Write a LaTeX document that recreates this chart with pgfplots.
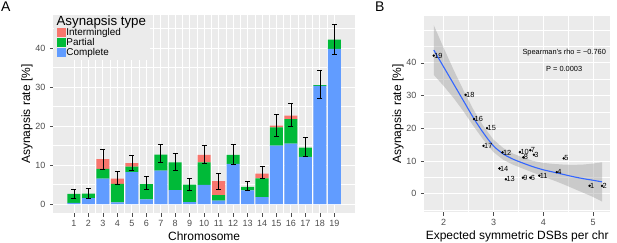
\documentclass[border=0pt]{standalone}
\usepackage{pgfplots}
\usepackage{pgfplotstable}
\pgfplotsset{compat=1.18}
\usepackage{fontspec}
\setmainfont{Liberation Sans}
\definecolor{ggbg}{HTML}{EBEBEB}
\definecolor{ggred}{HTML}{F8766D}
\definecolor{gggreen}{HTML}{00BA38}
\definecolor{ggblue}{HTML}{619CFF}
\definecolor{ggtick}{HTML}{4D4D4D}
\definecolor{ggline}{HTML}{3366FF}
\definecolor{ggband}{HTML}{999999}

\pgfplotstableread{
chr comp part inter total ep em
1  0.3  2.3  0    2.6  1.25 1.1
2  1.5  1.15 0    2.65 1.35 1.15
3  6.5  2.5  2.5  11.5 2.5  2.5
4  0.4  4.8  1.3  6.5  1.9  1.5
5  8.2  1.4  0.9  10.5 2.0  1.8
6  1.2  3.9  0    5.1  2.0  1.4
7  8.6  4.1  0    12.7 2.7  2.1
8  3.6  7.1  0    10.7 2.3  2.0
9  0.5  4.5  0    5.0  1.7  1.4
10 4.9  5.8  1.9  12.6 2.4  2.1
11 0.9  1.4  3.6  5.9  2.0  2.0
12 10.3 2.3  0    12.6 2.7  2.3
13 3.5  0.9  0    4.4  1.5  0.9
14 1.8  4.8  1.2  7.8  1.9  1.3
15 15.0 4.7  0.4  20.1 2.9  2.7
16 15.5 6.3  0.9  22.7 3.2  2.8
17 12.1 2.4  0    14.5 2.7  2.3
18 30.3 0.2  0    30.5 3.7  3.4
19 39.8 2.4  0    42.2 4.0  3.7
}\dataA

\pgfplotstableread{
x y lab
1.80 42.2 19
2.44 30.2 18
2.61 22.8 16
2.87 20.0 15
2.80 14.6 17
3.18 12.6 12
3.53 12.7 10
3.74 13.3 7
3.60 11.1 8
3.81 11.9 3
4.41 10.8 5
3.12 7.7 14
4.27 6.6 4
3.25 4.4 13
3.59 4.9 9
3.74 4.9 6
3.92 5.5 11
4.93 2.4 1
5.18 2.4 2
}\dataB

\pgfplotsset{
 ggstyle/.style={
  scale only axis,
  enlargelimits=false,
  axis background/.style={fill=ggbg},
  axis line style={draw=none},
  tick align=outside,
  xtick pos=bottom, ytick pos=left,
  major tick length=3.5pt,
  minor tick length=0pt,
  tick style={ggtick, line width=0.5pt},
  grid=both,
  major grid style={white, line width=0.9pt},
  minor grid style={white, line width=0.45pt},
  tick label style={font=\fontsize{9}{10}\selectfont, color=ggtick},
  yticklabel style={xshift=-1pt},
  label style={font=\fontsize{12}{14}\selectfont},
  /pgf/number format/assume math mode=true,
 },
 ggkey/.style={legend image code/.code={\fill[##1] (0pt,-4.5pt) rectangle (9.3pt,4.5pt);}},
}

\begin{document}
\begin{tikzpicture}
\useasboundingbox (0pt,0pt) rectangle (617pt,242pt);

% Panel A
\begin{axis}[ggstyle,
  at={(53.3pt,29pt)}, anchor=south west,
  width=301.7pt, height=198pt,
  xmin=-0.43, xmax=20.43, ymin=-2.3, ymax=48.5,
  ybar stacked, bar width=0.9,
  xtick={1,...,19}, minor xtick={1.5,2.5,...,18.5},
  ytick={0,10,20,30,40}, minor ytick={5,15,25,35,45},
  xlabel={Chromosome}, ylabel={Asynapsis rate [\%]},
  xlabel style={at={(axis description cs:0.5,-0.1187)}, anchor=center},
  ylabel style={at={(axis description cs:-0.0872,0.5)}, anchor=center},
  reverse legend,
  legend cell align=left,
  legend style={at={(0,1)}, anchor=north west, draw=none, fill=ggbg,
    font=\fontsize{9.9}{10}\selectfont, inner xsep=3pt, inner ysep=2pt,
    row sep=0pt,
    nodes={inner sep=0.6pt, text height=7.3pt, text depth=1.6pt}},
]
\addplot[fill=ggblue, draw=none, ggkey] table[x=chr, y=comp]{\dataA};
\addlegendentry{Complete}
\addplot[fill=gggreen, draw=none, ggkey] table[x=chr, y=part]{\dataA};
\addlegendentry{Partial}
\addplot[fill=ggred, draw=none, ggkey] table[x=chr, y=inter]{\dataA};
\addlegendentry{Intermingled}
\addlegendimage{empty legend}
\addlegendentry{\hspace*{-9.8pt}\fontsize{13.3}{13.5}\selectfont Asynapsis type}
\end{axis}

% Error bars of panel A
\begin{axis}[scale only axis, hide axis,
  at={(53.3pt,29pt)}, anchor=south west,
  width=301.7pt, height=198pt,
  xmin=-0.43, xmax=20.43, ymin=-2.3, ymax=48.5]
\addplot[draw=none, mark=none,
  error bars/.cd, y dir=both, y explicit,
  error bar style={draw=black, solid, line width=0.6pt},
  error mark options={draw=black, solid, rotate=90, mark size=2.5pt, line width=0.6pt}]
  table[x=chr, y=total, y error plus=ep, y error minus=em]{\dataA};
\end{axis}

% Panel B
\begin{axis}[ggstyle,
  at={(424.3pt,30pt)}, anchor=south west,
  width=185.7pt, height=196pt,
  xmin=1.61, xmax=5.34, ymin=-5.6, ymax=54.3,
  xtick={2,3,4,5}, minor xtick={2.5,3.5,4.5},
  ytick={0,10,20,30,40}, minor ytick={-5,5,15,25,35,45,50},
  xlabel={Expected symmetric DSBs per chr}, ylabel={Asynapsis rate [\%]},
  xlabel style={at={(axis description cs:0.5,-0.125)}, anchor=center},
  ylabel style={at={(axis description cs:-0.1416,0.5)}, anchor=center},
]
\addplot[fill=ggband, fill opacity=0.4, draw=none] coordinates {
(1.80,51.5) (2.00,44.5) (2.20,37.8) (2.40,31.5) (2.60,25.6) (2.80,20.6)
(3.00,16.5) (3.20,13.9) (3.40,12.2) (3.60,11.0) (3.80,10.0) (4.00,9.4)
(4.20,9.1) (4.40,8.9) (4.60,8.8) (4.80,8.9) (5.00,9.2) (5.18,9.6)
(5.18,-2.4) (5.00,-1.0) (4.80,0.3) (4.60,1.6) (4.40,2.9) (4.20,4.1)
(4.00,5.2) (3.80,6.4) (3.60,7.6) (3.40,8.8) (3.20,10.3) (3.00,12.7)
(2.80,16.4) (2.60,20.6) (2.40,25.1) (2.20,29.2) (2.00,32.9) (1.80,36.3)
} -- cycle;
\addplot[only marks, mark=*, mark size=1pt, black,
  nodes near coords, point meta=explicit symbolic,
  every node near coord/.append style={anchor=west, font=\fontsize{7.4}{8}\selectfont, inner sep=0.4pt, color=black}]
  table[x=x, y=y, meta=lab]{\dataB};
\addplot[ggline, line width=1.1pt, smooth] coordinates {
(1.80,43.9) (2.00,38.7) (2.20,33.5) (2.40,28.3) (2.60,23.1) (2.80,18.5)
(3.00,14.6) (3.20,12.1) (3.40,10.5) (3.60,9.3) (3.80,8.2) (4.00,7.3)
(4.20,6.6) (4.40,5.9) (4.60,5.2) (4.80,4.6) (5.00,4.1) (5.18,3.6)
};
\node[font=\fontsize{7.4}{8}\selectfont, inner sep=0pt] at (axis cs:4.42,43.2) {Spearman's rho = −0.760};
\node[font=\fontsize{7.4}{8}\selectfont, inner sep=0pt] at (axis cs:4.42,38.2) {P = 0.0003};
\end{axis}

\node[anchor=north west, inner sep=0pt, font=\fontsize{14}{14}\selectfont] at (1pt,240.5pt) {A};
\node[anchor=north west, inner sep=0pt, font=\fontsize{14}{14}\selectfont] at (375pt,240.5pt) {B};
\end{tikzpicture}
\end{document}
